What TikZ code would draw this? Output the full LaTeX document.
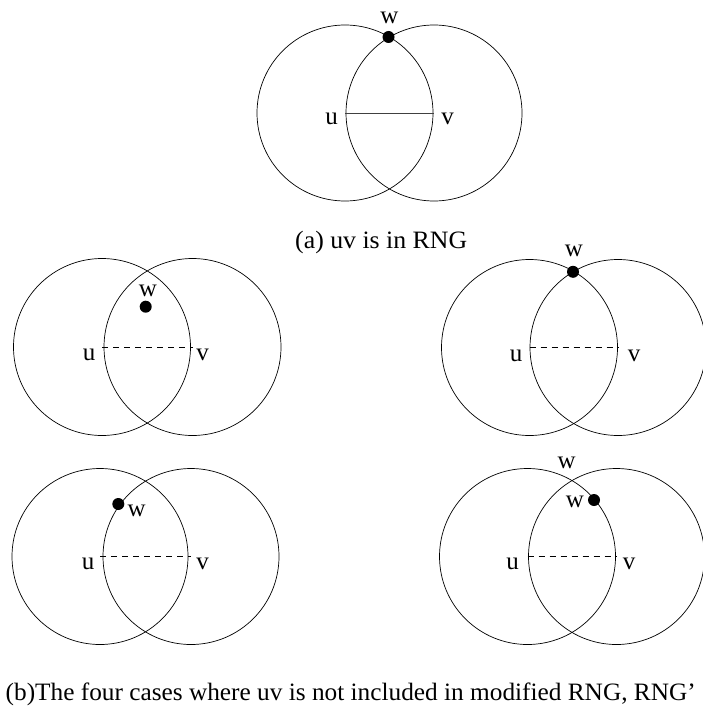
\documentclass[tikz,border=0pt]{standalone}
\usepackage{fontspec}
\usepackage{graphicx}
\setmainfont{Liberation Serif}
\begin{document}
\begin{tikzpicture}[x=1pt,y=-1pt,
  ring/.style={draw=black,line width=0.7pt},
  lbl/.style={inner sep=0pt,font=\fontsize{25}{30}\selectfont},
  captext/.style={inner sep=0pt,font=\fontsize{25}{30}\selectfont},
  pt/.style={circle,fill=black,inner sep=0pt,minimum size=12pt},
  edgesolid/.style={draw=black!75,line width=0.8pt},
  edgedash/.style={draw=black,line width=0.7pt,dash pattern=on 6pt off 5pt}]
\useasboundingbox (0,0) rectangle (702,706);
% (a)
\coordinate (ua) at (345,113);
\coordinate (va) at (434,113);
\draw[ring] (ua) circle[radius=88];
\draw[ring] (va) circle[radius=88];
\draw[edgesolid] (ua) -- (va);
\node[pt] (wa) at (388.5,37) {};
\node[lbl] (lwa) at (389.3,18.3) {w};
\node[lbl] (lua) at (331.7,119) {u};
\node[lbl] (lva) at (447.5,119) {v};
\node[captext,anchor=base west] (capa) at (295,248.5) {\resizebox{172pt}{\height}{(a) uv is in RNG}};
% (b1)
\coordinate (ub) at (102,347);
\coordinate (vb) at (192.5,347);
\draw[ring] (ub) circle[radius=88.5];
\draw[ring] (vb) circle[radius=88.5];
\draw[edgedash] (ub) -- (vb);
\node[pt] (wb) at (145.7,306.7) {};
\node[lbl] (lwb) at (148,291) {w};
\node[lbl] (lub) at (89,354.7) {u};
\node[lbl] (lvb) at (202.5,354.7) {v};
% (b2)
\coordinate (uc) at (529.5,347.5);
\coordinate (vc) at (618,347.5);
\draw[ring] (uc) circle[radius=88];
\draw[ring] (vc) circle[radius=88];
\draw[edgedash] (uc) -- (vc);
\node[pt] (wc) at (573,271.8) {};
\node[lbl] (lwc) at (574,251) {w};
\node[lbl] (luc) at (516,356) {u};
\node[lbl] (lvc) at (634,356) {v};
% (b3)
\coordinate (ud) at (100,556.5);
\coordinate (vd) at (191,556.5);
\draw[ring] (ud) circle[radius=88];
\draw[ring] (vd) circle[radius=88];
\draw[edgedash] (ud) -- (vd);
\node[pt] (wd) at (118.3,504) {};
\node[lbl] (lwd) at (136.7,510.5) {w};
\node[lbl] (lud) at (88,564) {u};
\node[lbl] (lvd) at (202.5,564) {v};
% (b4)
\coordinate (ue) at (527.5,556.5);
\coordinate (ve) at (616.5,556.5);
\draw[ring] (ue) circle[radius=88];
\draw[ring] (ve) circle[radius=88];
\draw[edgedash] (ue) -- (ve);
\node[pt] (we) at (594,500) {};
\node[lbl] (lwe) at (575,501.7) {w};
\node[lbl] (lwe2) at (566.7,462.5) {w};
\node[lbl] (lue) at (512.5,564) {u};
\node[lbl] (lve) at (629,564) {v};
% caption b
\node[captext,anchor=base west] (capb) at (5.5,700) {\resizebox{690pt}{\height}{(b)The four cases where uv is not included in modified RNG, RNG’}};
\end{tikzpicture}
\end{document}
